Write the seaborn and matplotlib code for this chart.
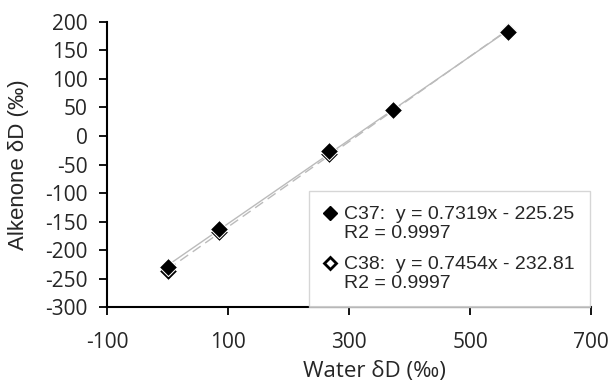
import seaborn as sns
import matplotlib.pyplot as plt
from matplotlib.lines import Line2D
from matplotlib.legend_handler import HandlerLine2D

water_dD = [0, 85, 267, 372, 563]
c37_dD = [-230, -163, -27, 46, 183]
c38_dD = [-237, -169, -31, 45, 184]
c37_label = "C37:  y = 0.7319x - 225.25\nR2 = 0.9997"
c38_label = "C38:  y = 0.7454x - 232.81\nR2 = 0.9997"


class FirstLineHandler(HandlerLine2D):
    # put the marker next to the first text line instead of the middle
    def create_artists(self, legend, orig_handle, xdescent, ydescent,
                       width, height, fontsize, trans):
        return super().create_artists(legend, orig_handle, xdescent,
                                      ydescent - 1.1 * fontsize,
                                      width, height, fontsize, trans)


sns.set_style("ticks")
plt.rcParams["font.family"] = ["Liberation Sans", "DejaVu Sans"]
plt.rcParams["axes.unicode_minus"] = False

fig = plt.figure(figsize=(6.13, 3.84), dpi=100)
ax = fig.add_axes([0.175, 0.2, 0.789, 0.743])

sns.regplot(x=water_dD, y=c38_dD, ci=None, scatter=False, truncate=True, ax=ax,
            line_kws=dict(color="#bbbbbb", lw=1, ls=(0, (7, 4))))
sns.regplot(x=water_dD, y=c37_dD, ci=None, scatter=False, truncate=True, ax=ax,
            line_kws=dict(color="#bbbbbb", lw=1))
sns.scatterplot(x=water_dD, y=c38_dD, marker="D", s=85, color="black", ax=ax, zorder=3)
sns.scatterplot(x=water_dD, y=c37_dD, marker="D", s=85, color="black", ax=ax, zorder=4)

ax.set_xlim(-100, 700)
ax.set_ylim(-300, 200)
ax.set_xticks(range(-100, 701, 200))
ax.set_yticks(range(-300, 201, 50))
ax.tick_params(width=1.3, length=6, color="black")
ax.tick_params(axis="x", pad=12)
ax.tick_params(axis="y", pad=8)
for lab in ax.get_xticklabels() + ax.get_yticklabels():
    lab.set_fontfamily(["Open Sans", "DejaVu Sans"])
    lab.set_fontsize(15)
for s in ["left", "bottom"]:
    ax.spines[s].set_linewidth(1.5)
    ax.spines[s].set_color("black")
sns.despine(ax=ax)
ax.set_xlabel("Water δD (‰)", fontsize=16, family=["Open Sans", "DejaVu Sans"])
ax.set_ylabel("Alkenone δD (‰)", fontsize=16)
ax.xaxis.set_label_coords(0.552, -0.19)
ax.yaxis.set_label_coords(-0.162, 0.5)

handles = [
    Line2D([], [], marker="D", ls="none", color="black", markersize=7),
    Line2D([], [], marker="D", ls="none", markerfacecolor="white",
           markeredgecolor="black", markeredgewidth=2, markersize=6.5),
]
leg = ax.legend(handles, [c37_label, c38_label], loc="lower right",
                bbox_to_anchor=(0.998, 0.0), fontsize=14, frameon=True,
                fancybox=False, handlelength=0.6, handletextpad=0.4,
                labelspacing=0.75, borderpad=0.8, borderaxespad=0,
                handler_map={Line2D: FirstLineHandler()})
for t in leg.get_texts():
    t.set_linespacing(1.1)
leg.get_frame().set_edgecolor("#cccccc")
leg.get_frame().set_linewidth(1)

fig.savefig("out.png", dpi=100)
